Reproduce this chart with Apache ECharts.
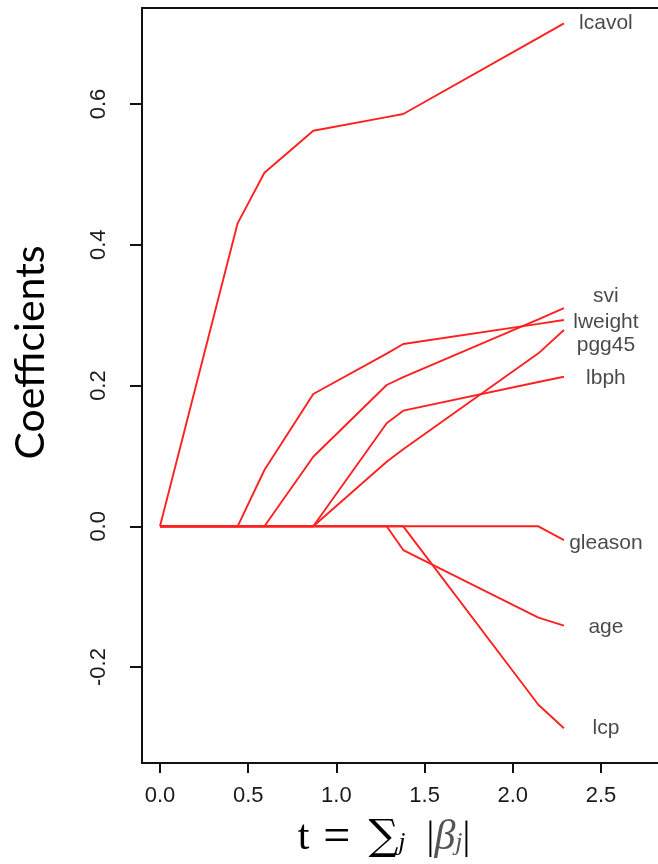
<!DOCTYPE html>
<html><head><meta charset="utf-8">
<script src="https://cdn.jsdelivr.net/npm/echarts@6/dist/echarts.min.js"></script>
<style>html,body{margin:0;padding:0;background:#fff}#c{width:658px;height:864px}</style>
</head><body><div id="c"></div>
<script>
// Lasso path breakpoints (t = sum |beta_j|) and coefficient values at each breakpoint
const breakpoints = [0, 0.44, 0.592, 0.869, 1.285, 1.379, 2.145, 2.29];
const lcavol  = [0, 0.4305, 0.5024, 0.5621, 0.5815, 0.5859, 0.694, 0.7147];
const lweight = [0, 0, 0.080, 0.188, 0.2453, 0.259, 0.2876, 0.2931];
const svi     = [0, 0, 0, 0.0989, 0.2008, 0.2119, 0.294, 0.3102];
const pgg45   = [0, 0, 0, 0, 0.0918, 0.1096, 0.2458, 0.2789];
const lbph    = [0, 0, 0, 0, 0.1464, 0.1643, 0.205, 0.2126];
const gleason = [0, 0, 0, 0, 0, 0, 0, -0.0195];
const age     = [0, 0, 0, 0, 0, -0.0337, -0.1296, -0.141];
const lcp     = [0, 0, 0, 0, 0, 0, -0.2535, -0.287];

const variableNames = ['lcavol', 'svi', 'lweight', 'pgg45', 'lbph', 'gleason', 'age', 'lcp'];
const variableValues = [lcavol, svi, lweight, pgg45, lbph, gleason, age, lcp];
// end-label anchor positions (data units)
const labelT = 2.528;
const labelY = [0.7147, 0.3263, 0.2907, 0.2573, 0.2099, -0.0242, -0.1427, -0.2871];

const xTicks = [0, 0.5, 1.0, 1.5, 2.0, 2.5];
const yTicks = [-0.2, 0.0, 0.2, 0.4, 0.6];

const RED = '#ff2020';
const INK = '#000000';

const chart = echarts.init(document.getElementById('c'), null, {renderer: 'canvas'});

const lineSeries = variableNames.map((name, k) => ({
  name: name,
  type: 'line',
  data: breakpoints.map((t, i) => [t, variableValues[k][i]]),
  showSymbol: false,
  symbol: 'none',
  lineStyle: {color: RED, width: 1.9},
  silent: true,
  animation: false,
  z: 3
}));

const labelSeries = {
  type: 'scatter',
  data: variableNames.map((n, i) => ({name: n, value: [labelT, labelY[i]]})),
  symbolSize: 1,
  itemStyle: {color: 'rgba(255,255,255,0)'},
  label: {
    show: true, position: 'inside', formatter: '{b}',
    fontFamily: 'Liberation Sans', fontSize: 21, color: '#1a1a1a'
  },
  silent: true,
  animation: false,
  z: 4
};

const LH = 36;
chart.setOption({
  backgroundColor: '#ffffff',
  animation: false,
  grid: {left: 142, top: 8, width: 530, height: 755, show: true, containLabel: false,
         outerBoundsMode: 'none',
         borderColor: '#111', borderWidth: 2, backgroundColor: 'transparent'},
  xAxis: {
    type: 'value', min: -0.102, max: 2.9025,
    axisLine: {show: false, onZero: false},
    splitLine: {show: false},
    axisTick: {show: true, customValues: xTicks, length: 10, lineStyle: {color: '#111', width: 2}},
    axisLabel: {customValues: xTicks, formatter: v => v.toFixed(1), margin: 22,
                fontFamily: 'Liberation Sans', fontSize: 22, color: '#1a1a1a'},
    name: '{t|t}{s1| }{eq|=}{s2| }{sig|∑}{sub|j}{s3| }{bar||}{beta|β}{sub2|j}{bar||}',
    nameLocation: 'middle', nameGap: 57, nameMoveOverlap: false,
    nameTextStyle: {
      color: INK, fontFamily: 'Liberation Serif', fontSize: 36, lineHeight: LH, padding: [0, 46, 0, 0],
      rich: {
        t: {fontFamily: 'Liberation Serif', fontSize: 42, lineHeight: LH, color: INK, verticalAlign: 'middle'},
        s1: {fontFamily: 'Liberation Serif', fontSize: 56, lineHeight: LH, verticalAlign: 'middle'},
        s2: {fontFamily: 'Liberation Serif', fontSize: 72, lineHeight: LH, verticalAlign: 'middle'},
        s3: {fontFamily: 'Liberation Serif', fontSize: 84, lineHeight: LH, verticalAlign: 'middle'},
        eq: {fontFamily: 'Liberation Serif', fontSize: 48, lineHeight: LH, color: INK, verticalAlign: 'middle'},
        sig: {fontFamily: 'DejaVu Serif', fontSize: 42, lineHeight: LH, color: INK, verticalAlign: 'middle'},
        sub: {fontFamily: 'Liberation Serif', fontStyle: 'italic', fontSize: 26, lineHeight: 26, color: INK, verticalAlign: 'bottom'},
        sub2: {fontFamily: 'Liberation Serif', fontStyle: 'italic', fontSize: 26, lineHeight: 26, color: '#555', verticalAlign: 'bottom'},
        bar: {fontFamily: 'Liberation Serif', fontSize: 39, lineHeight: LH, color: INK, verticalAlign: 'middle'},
        beta: {fontFamily: 'Liberation Serif', fontStyle: 'italic', fontSize: 42, lineHeight: LH, color: '#555', verticalAlign: 'middle'}
      }
    }
  },
  yAxis: {
    type: 'value', min: -0.3363, max: 0.7365,
    axisLine: {show: false, onZero: false},
    splitLine: {show: false},
    axisTick: {show: true, customValues: yTicks, length: 12, lineStyle: {color: '#111', width: 2}},
    axisLabel: {customValues: yTicks, formatter: v => v.toFixed(1), rotate: 90, margin: 32,
                fontFamily: 'Liberation Sans', fontSize: 22, color: '#1a1a1a'},
    name: 'Coefficients',
    nameLocation: 'middle', nameGap: 91,
    nameTextStyle: {fontFamily: 'Lato', fontSize: 41, color: INK, padding: [0, 0, 0, 66]}
  },
  series: [...lineSeries, labelSeries]
});
</script>
</body></html>
